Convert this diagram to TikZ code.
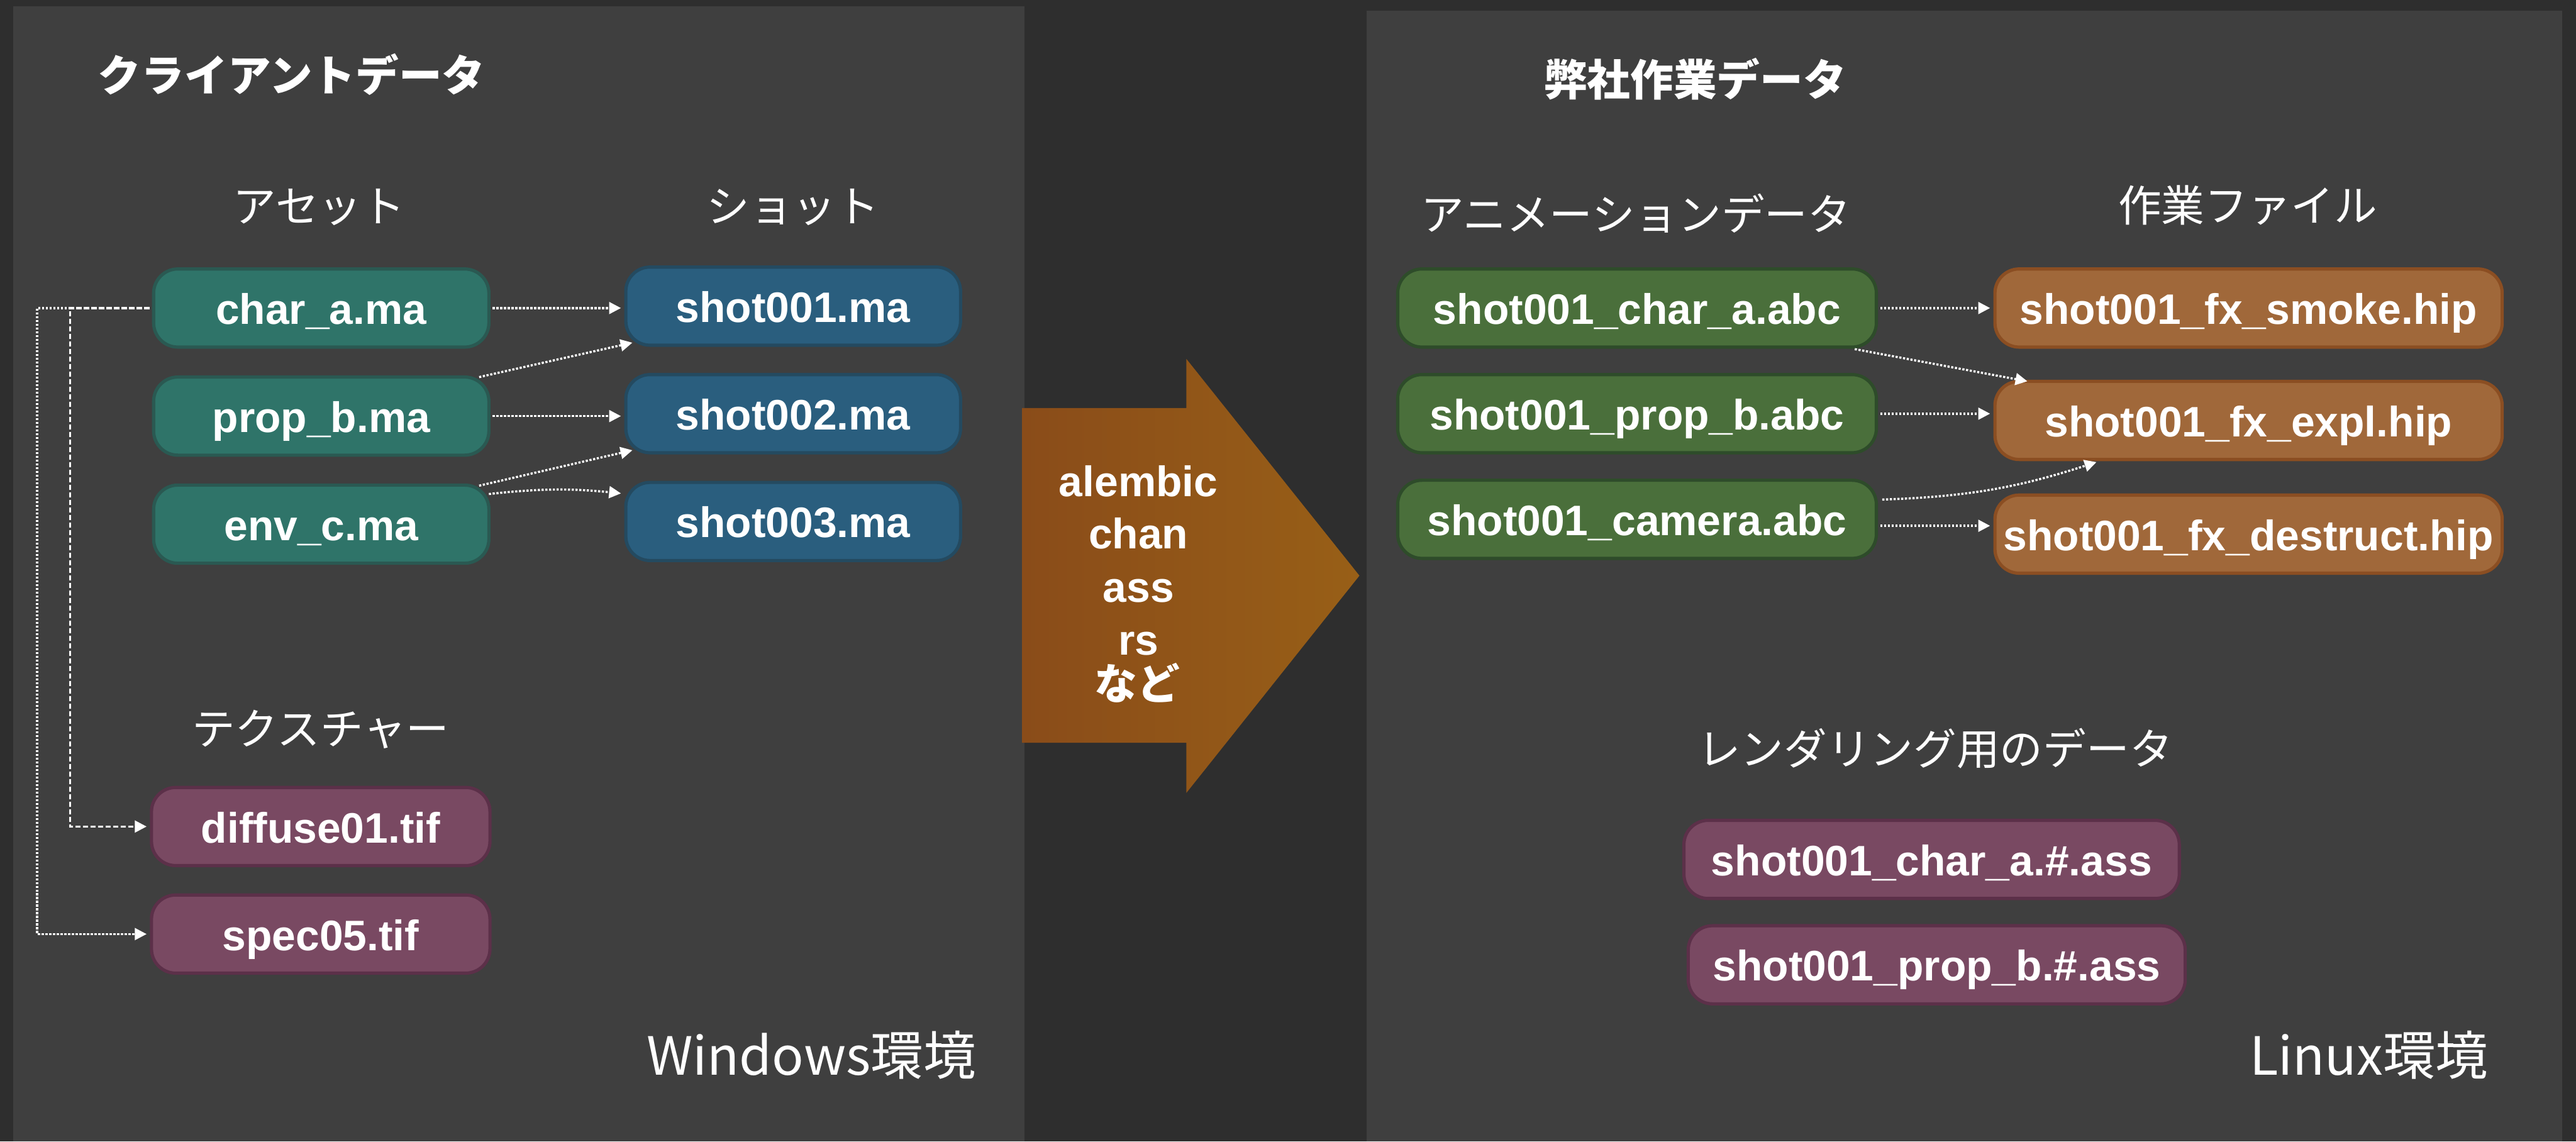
\documentclass[tikz,border=0pt]{standalone}
\usepackage{fontspec}
\setmainfont{Liberation Sans}
\newfontfamily\jpfont{Noto Sans CJK JP}
\usetikzlibrary{arrows.meta,calc}
\definecolor{bgc}{HTML}{2E2E2E}
\definecolor{panelc}{HTML}{3F3F3F}
\definecolor{tealf}{HTML}{2F7469}
\definecolor{tealb}{HTML}{2A5952}
\definecolor{bluef}{HTML}{2A5E7E}
\definecolor{blueb}{HTML}{244A60}
\definecolor{purf}{HTML}{794962}
\definecolor{purb}{HTML}{5C3049}
\definecolor{grnf}{HTML}{4A6F3B}
\definecolor{grnb}{HTML}{2E4C2A}
\definecolor{orgf}{HTML}{A0683A}
\definecolor{orgb}{HTML}{8B4E22}
\definecolor{arrL}{HTML}{8A4C19}
\definecolor{arrR}{HTML}{985F17}
\begin{document}
\begin{tikzpicture}[x=1cm,y=-1cm,
  box/.style={rectangle, rounded corners=0.45cm, line width=0.06cm, text=white,
    font=\fontsize{22.5}{27}\selectfont\bfseries, inner sep=0pt,
    text height=0.70cm, text depth=0.10cm,
    minimum height=1.45cm, anchor=center},
  tealbox/.style={box, fill=tealf, draw=tealb, minimum width=6.22cm},
  bluebox/.style={box, fill=bluef, draw=blueb, minimum width=6.21cm},
  purbox/.style={box, fill=purf, draw=purb, minimum width=6.28cm},
  grnbox/.style={box, fill=grnf, draw=grnb, minimum width=8.88cm},
  orgbox/.style={box, fill=orgf, draw=orgb, minimum width=9.41cm},
  lab/.style={text=white, font=\jpfont\fontsize{22.8}{27}\selectfont, inner sep=0pt},
  ttl/.style={text=white, font=\jpfont\bfseries\fontsize{22.8}{27}\selectfont, inner sep=0pt},
  envlab/.style={text=white, font=\jpfont\fontsize{27.8}{34}\selectfont, inner sep=0pt},
  arrtxt/.style={text=white, font=\fontsize{22.5}{27}\selectfont\bfseries, inner sep=0pt, anchor=base},
  conn/.style={draw=white, line width=0.04cm, dash pattern=on 0.04cm off 0.03cm,
    -{Triangle[length=0.22cm,width=0.22cm]}, shorten >=0.06cm, shorten <=0.04cm},
  dconn/.style={conn, dash pattern=on 0.09cm off 0.05cm}
]
% background and panels
\fill[bgc] (0,0) rectangle (47.79,21.18);
\useasboundingbox (0,0) rectangle (47.79,21.18);
\fill[panelc] (0.24,0.12) rectangle (19.01,21.18);
\fill[panelc] (25.35,0.20) rectangle (47.53,21.18);

% big arrow
\shade[left color=arrL, right color=arrR] (18.96,7.57) -- (22.01,7.57) -- (22.01,6.66) -- (25.22,10.68) -- (22.01,14.71) -- (22.01,13.78) -- (18.96,13.78) -- cycle;
\node[arrtxt] (t1) at (21.12,9.21) {alembic};
\node[arrtxt] (t2) at (21.12,10.18) {chan};
\node[arrtxt] (t3) at (21.12,11.17) {ass};
\node[arrtxt] (t4) at (21.12,12.15) {rs};
\node[arrtxt, font=\jpfont\bfseries\fontsize{22.5}{27}\selectfont] (t5) at (21.10,12.98) {など};

% titles and labels
\node[ttl] (lt) at (5.41,1.38) {クライアントデータ};
\node[ttl] (rt) at (31.45,1.47) {弊社作業データ};
\node[lab] (la) at (5.92,3.84) {アセット};
\node[lab] (ls) at (14.71,3.84) {ショット};
\node[lab] (lx) at (5.95,13.53) {テクスチャー};
\node[lab] (lan) at (30.35,3.96) {アニメーションデータ};
\node[lab] (lw) at (41.70,3.81) {作業ファイル};
\node[lab] (lr) at (35.90,13.89) {レンダリング用のデータ};
\node[envlab] (ew) at (15.05,19.58) {Windows環境};
\node[envlab] (el) at (43.95,19.58) {Linux環境};

% left nodes
\node[tealbox] (chara) at (5.96,5.715) {char\_a.ma};
\node[tealbox] (propb) at (5.96,7.72) {prop\_b.ma};
\node[tealbox] (envc) at (5.96,9.725) {env\_c.ma};
\node[bluebox] (s1) at (14.715,5.68) {shot001.ma};
\node[bluebox] (s2) at (14.715,7.675) {shot002.ma};
\node[bluebox] (s3) at (14.715,9.675) {shot003.ma};
\node[purbox] (diff) at (5.95,15.335) {diffuse01.tif};
\node[purbox] (spec) at (5.95,17.33) {spec05.tif};

% right nodes
\node[grnbox] (ac) at (30.37,5.715) {shot001\_char\_a.abc};
\node[grnbox] (ap) at (30.37,7.675) {shot001\_prop\_b.abc};
\node[grnbox] (am) at (30.37,9.635) {shot001\_camera.abc};
\node[orgbox] (hs) at (41.715,5.715) {shot001\_fx\_smoke.hip};
\node[orgbox] (he) at (41.715,7.80) {shot001\_fx\_expl.hip};
\node[orgbox] (hd) at (41.715,9.91) {shot001\_fx\_destruct.hip};
\node[purbox, minimum width=9.19cm] (rc) at (35.835,15.945) {shot001\_char\_a.\#.ass};
\node[purbox, minimum width=9.22cm] (rp) at (35.93,17.90) {shot001\_prop\_b.\#.ass};

% left connectors
\coordinate (v1) at (0.69,0);
\coordinate (v2) at (1.30,0);
\draw[conn] (chara.west) -- (chara.west -| v1) -- (spec.west -| v1) -- (spec.west);
\draw[dconn] (chara.west) -- (chara.west -| v2) -- (diff.west -| v2) -- (diff.west);
\draw[conn] (chara.east) -- (chara.east -| s1.west);
\draw[conn] ([xshift=-0.25cm,yshift=-0.04cm]propb.north east) -- ([xshift=0.21cm,yshift=0.09cm]s1.south west);
\draw[conn] (propb.east) -- (propb.east -| s2.west);
\draw[conn] ([xshift=-0.25cm,yshift=-0.05cm]envc.north east) -- ([xshift=0.21cm,yshift=0.09cm]s2.south west);
\draw[conn] ([xshift=-0.07cm,yshift=-0.2cm]envc.north east) to[bend left=6] ([yshift=-0.24cm]s3.north west);

% right connectors
\draw[conn] (ac.east) -- (ac.east -| hs.west);
\draw[conn] ([xshift=-0.47cm]ac.south east) -- ([xshift=0.69cm,yshift=-0.04cm]he.north west);
\draw[conn] (ap.east) -- (ap.east -| he.west);
\draw[conn] ([xshift=0.04cm,yshift=-0.39cm]am.north east) to[bend right=8] ([xshift=1.97cm]he.south west);
\draw[conn] ([yshift=-0.12cm]am.east) -- ([yshift=-0.12cm]am.east -| hd.west);
\end{tikzpicture}
\end{document}
